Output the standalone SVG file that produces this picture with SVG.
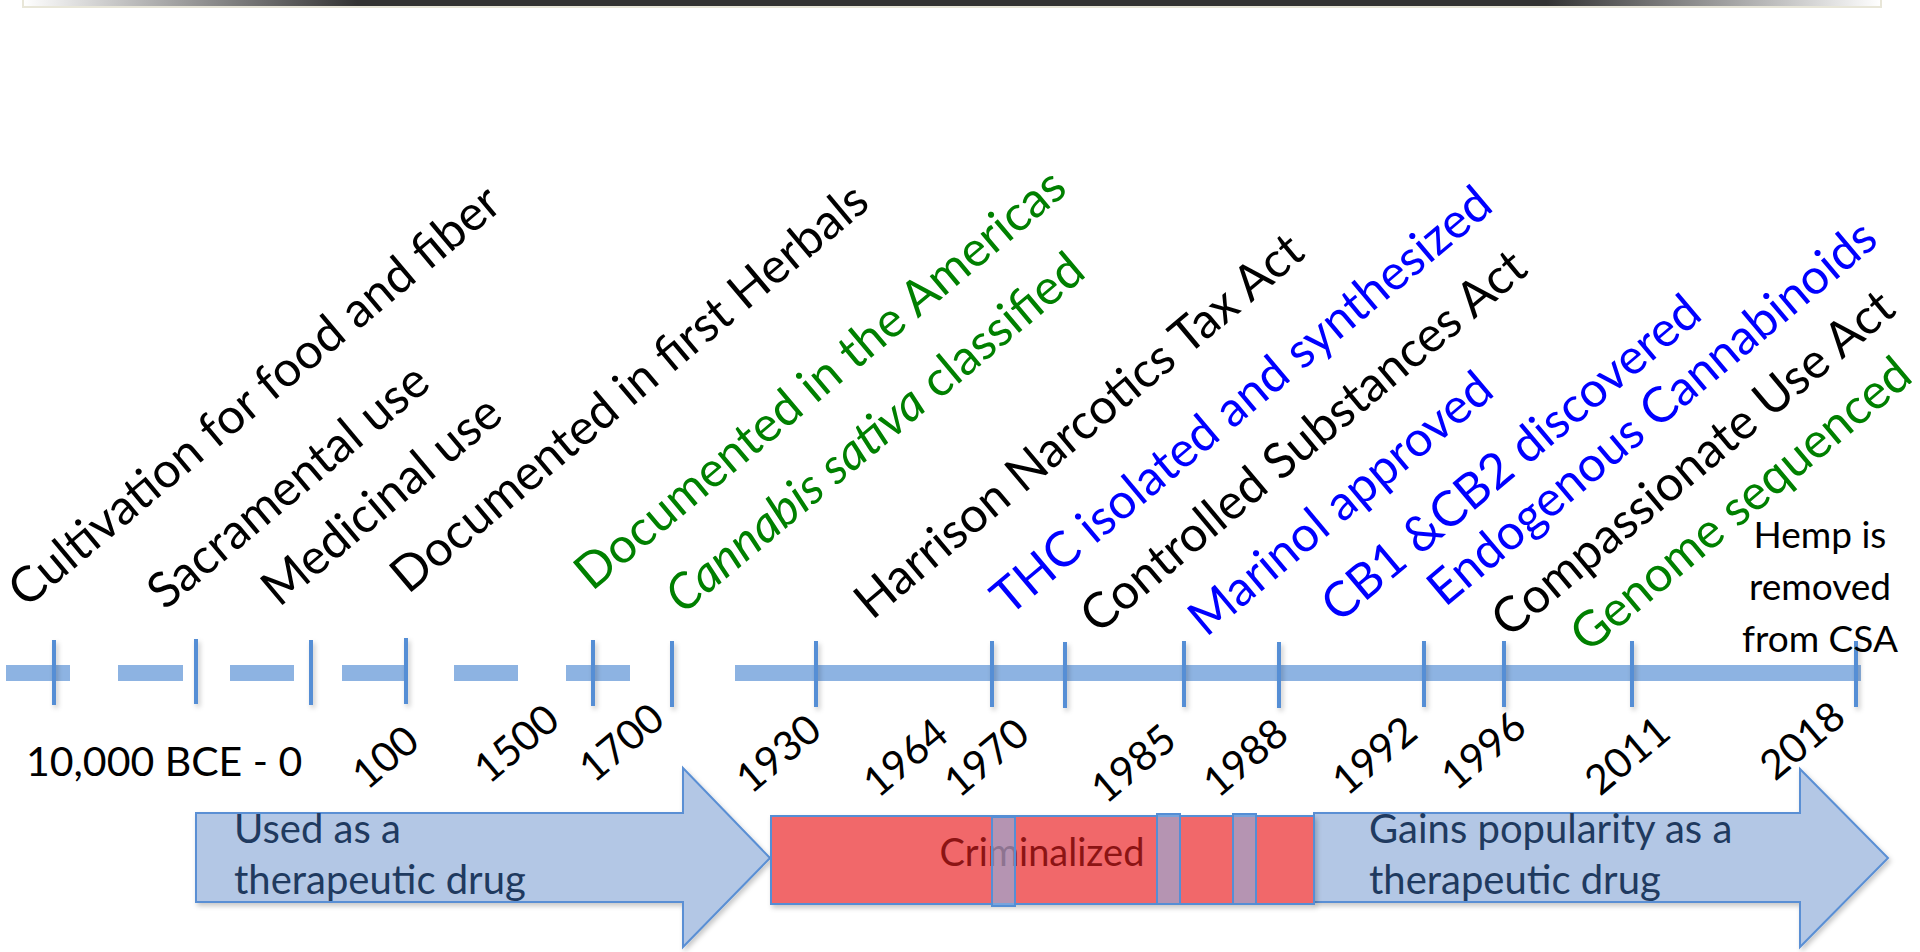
<svg xmlns="http://www.w3.org/2000/svg" width="1920" height="952" viewBox="0 0 1920 952">
<defs>
<linearGradient id="topbar" x1="0" y1="0" x2="1" y2="0">
<stop offset="0" stop-color="#ffffff"/>
<stop offset="0.18" stop-color="#333333"/>
<stop offset="0.82" stop-color="#333333"/>
<stop offset="1" stop-color="#ffffff"/>
</linearGradient>
<filter id="sh" x="-5%" y="-10%" width="110%" height="130%">
<feDropShadow dx="2" dy="3" stdDeviation="2.5" flood-color="#000" flood-opacity="0.22"/>
</filter>
</defs>
<style>
.lbl{font-family:Lato,"Open Sans",sans-serif;font-size:49px}
.yr{font-family:Lato,"Open Sans",sans-serif;font-size:41px;fill:#000}
.k{fill:#000}.g{fill:#008000}.b{fill:#0000ff}
.bar{fill:#8db3e2}
.tick{stroke:#558ed5;stroke-width:4}
.arrow{fill:#b3c7e5;stroke:#5a8fd4;stroke-width:2}
.atxt{font-family:Lato,"Open Sans",sans-serif;font-size:40px;fill:#1f3a5f}
.hl{fill:#8db3e2;fill-opacity:0.6;stroke:#558ed5;stroke-width:2}
</style>
<rect width="1920" height="952" fill="#ffffff"/>
<g id="topbar-frame">
<rect x="23" y="-2" width="1858" height="9" fill="url(#topbar)" stroke="#e8e6d8" stroke-width="2"/>
</g>

<g id="connectors">
<rect class="bar" x="6" y="665" width="64" height="16"/>
<rect class="bar" x="118" y="665" width="65" height="16"/>
<rect class="bar" x="230" y="665" width="64" height="16"/>
<rect class="bar" x="342" y="665" width="64" height="16"/>
<rect class="bar" x="454" y="665" width="64" height="16"/>
<rect class="bar" x="566" y="665" width="64" height="16"/>
<rect class="bar" x="735" y="665" width="1126" height="16"/>
<g filter="url(#sh)">
<line class="tick" x1="54" y1="640" x2="54" y2="705"/>
<line class="tick" x1="196" y1="639" x2="196" y2="704"/>
<line class="tick" x1="311" y1="640" x2="311" y2="705"/>
<line class="tick" x1="406" y1="638" x2="406" y2="704"/>
<line class="tick" x1="593" y1="640" x2="593" y2="706"/>
<line class="tick" x1="672" y1="641" x2="672" y2="707"/>
<line class="tick" x1="816" y1="641" x2="816" y2="707"/>
<line class="tick" x1="992" y1="641" x2="992" y2="707"/>
<line class="tick" x1="1065" y1="642" x2="1065" y2="708"/>
<line class="tick" x1="1184" y1="641" x2="1184" y2="707"/>
<line class="tick" x1="1279" y1="642" x2="1279" y2="708"/>
<line class="tick" x1="1424" y1="641" x2="1424" y2="707"/>
<line class="tick" x1="1504" y1="641" x2="1504" y2="707"/>
<line class="tick" x1="1632" y1="641" x2="1632" y2="707"/>
<line class="tick" x1="1856" y1="641" x2="1856" y2="707"/>
</g>
</g>

<g id="events">
<text class="lbl k" transform="translate(26,609) rotate(-40)">Cultivation for food and fiber</text>
<text class="lbl k" transform="translate(165,611) rotate(-40)">Sacramental use</text>
<text class="lbl k" transform="translate(279,608) rotate(-40)">Medicinal use</text>
<text class="lbl k" transform="translate(408,595) rotate(-40)">Documented in first Herbals</text>
<text class="lbl g" transform="translate(592,592) rotate(-40)">Documented in the Americas</text>
<text class="lbl g" transform="translate(683,615) rotate(-40)" font-size="50"><tspan font-style="italic">Cannabis sativa</tspan> classified</text>
<text class="lbl k" transform="translate(872,621) rotate(-40)" font-size="48.5">Harrison Narcotics Tax Act</text>
<text class="lbl b" transform="translate(1009,617) rotate(-40)" font-size="48">THC isolated and synthesized</text>
<text class="lbl k" transform="translate(1098,635) rotate(-40)">Controlled Substances Act</text>
<text class="lbl b" transform="translate(1206,638) rotate(-40)">Marinol approved</text>
<text class="lbl b" transform="translate(1339,624) rotate(-40)" font-size="47.5">CB1 &amp;CB2 discovered</text>
<text class="lbl b" transform="translate(1445,608) rotate(-40)">Endogenous Cannabinoids</text>
<text class="lbl k" transform="translate(1509,639) rotate(-40)">Compassionate Use Act</text>
<text class="lbl g" transform="translate(1588,654) rotate(-40)">Genome sequenced</text>
</g>

<g id="hemp-note" font-family="Lato, 'Open Sans', sans-serif" font-size="37" fill="#000" text-anchor="middle">
<text x="1820" y="548">Hemp is</text>
<text x="1820" y="600">removed</text>
<text x="1820" y="652">from CSA</text>
</g>

<g id="years">
<text class="yr" x="26" y="776" font-size="42">10,000 BCE - 0</text>
<text class="yr" transform="translate(367,791) rotate(-40)">100</text>
<text class="yr" transform="translate(489,785) rotate(-40)">1500</text>
<text class="yr" transform="translate(594,784) rotate(-40)">1700</text>
<text class="yr" transform="translate(751,795) rotate(-40)">1930</text>
<text class="yr" transform="translate(878,799) rotate(-40)">1964</text>
<text class="yr" transform="translate(959,799) rotate(-40)">1970</text>
<text class="yr" transform="translate(1106,805) rotate(-40)">1985</text>
<text class="yr" transform="translate(1218,799) rotate(-40)">1988</text>
<text class="yr" transform="translate(1347,797) rotate(-40)">1992</text>
<text class="yr" transform="translate(1456,792) rotate(-40)">1996</text>
<text class="yr" transform="translate(1600,797) rotate(-40)">2011</text>
<text class="yr" transform="translate(1775,782) rotate(-40)">2018</text>
</g>

<g id="arrow-left">
<path class="arrow" filter="url(#sh)" d="M196,813 H683 V768 L770,858 L683,947 V902 H196 Z"/>
<text class="atxt" x="234" y="843">Used as a</text>
<text class="atxt" x="234" y="894">therapeutic drug</text>
</g>

<g id="arrow-right">
<path class="arrow" filter="url(#sh)" d="M1314,813 H1800 V769 L1888,858 L1800,947 V902 H1314 Z"/>
<text class="atxt" x="1369" y="843">Gains popularity as a</text>
<text class="atxt" x="1369" y="894">therapeutic drug</text>
</g>

<g id="criminalized">
<rect x="771" y="816" width="543" height="88" fill="#f1686b" stroke="#558ed5" stroke-width="2" filter="url(#sh)"/>
<text x="1042" y="866" font-family="Lato, 'Open Sans', sans-serif" font-size="38" fill="#8c1414" text-anchor="middle">Criminalized</text>
</g>

<g id="highlight-1970"><rect class="hl" x="992" y="817" width="23" height="89"/></g>
<g id="highlight-1985"><rect class="hl" x="1157" y="814" width="23" height="90"/></g>
<g id="highlight-1988"><rect class="hl" x="1233" y="814" width="23" height="90"/></g>
</svg>
